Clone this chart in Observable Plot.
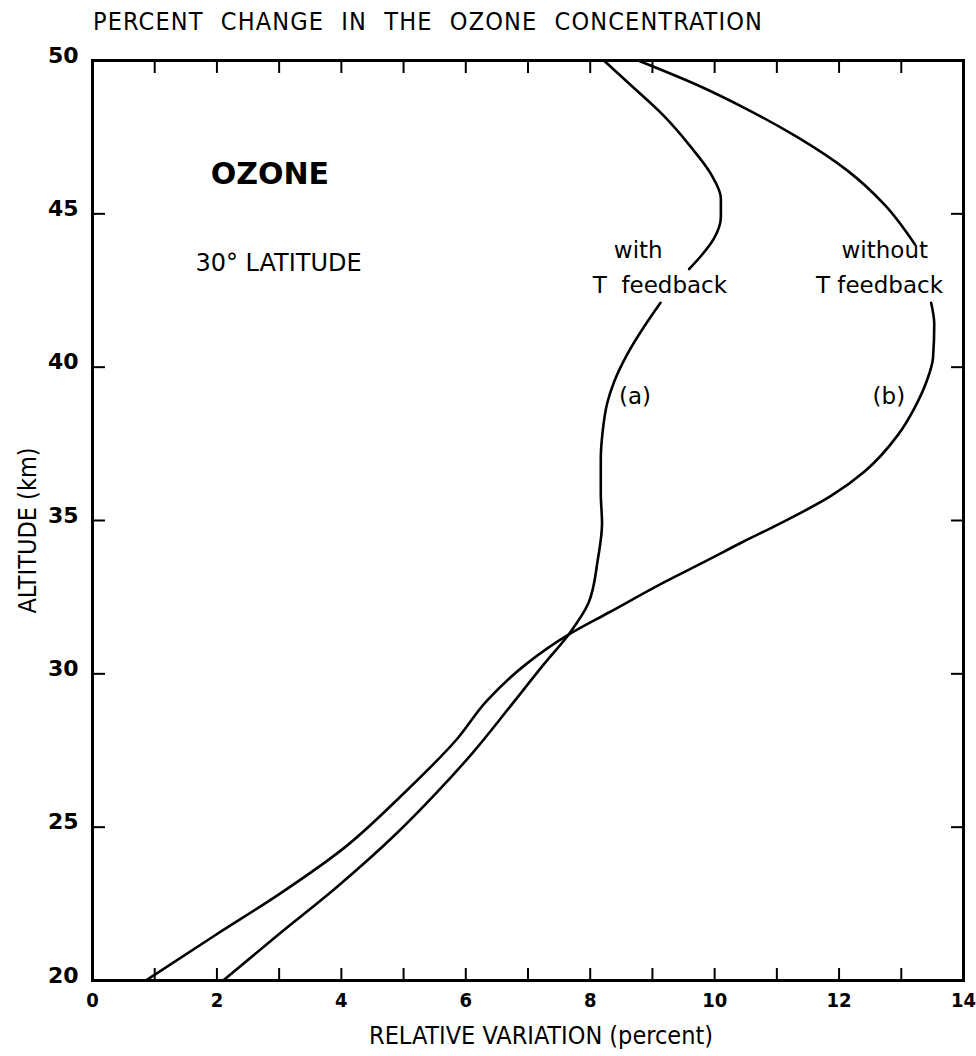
<!DOCTYPE html>
<html>
<head>
<meta charset="utf-8">
<script src="https://cdn.jsdelivr.net/npm/d3@7"></script>
<script src="https://cdn.jsdelivr.net/npm/@observablehq/plot@0.6"></script>
<style>
  html, body { margin: 0; padding: 0; background: #fff; }
  #wrap { position: relative; width: 976px; height: 1056px; overflow: hidden; }
  #title {
    position: absolute; left: 93px; top: 9px; z-index: 2;
    font-family: "DejaVu Sans Condensed", "DejaVu Sans", sans-serif;
    font-size: 25px; line-height: 25px; word-spacing: 9px;
    color: #000; white-space: nowrap;
  }
  #chart { position: absolute; left: 0; top: 0; }
</style>
</head>
<body>
<div id="wrap">
  <div id="title">PERCENT CHANGE IN THE OZONE CONCENTRATION</div>
  <div id="chart"></div>
</div>
<script>
// ---- data ----
// (a) with T feedback: altitude (km) and relative variation (percent); null = gap where the label sits
const withAlt = [20.0, 21.5, 23.0, 24.8, 26.1, 27.4, 28.9, 30.3, 31.3, 32.3, 33.7, 34.9, 35.9, 37.0, 37.9, 38.8, 39.5, 40.4, 41.3, 42.1, null, 43.2, 43.6, 44.2, 44.9, 45.5, 46.3, 47.2, 48.2, 49.2, 50.0];
const withVal = [2.10, 2.99, 3.90, 4.89, 5.52, 6.10, 6.70, 7.25, 7.66, 7.97, 8.12, 8.19, 8.17, 8.17, 8.20, 8.27, 8.38, 8.59, 8.86, 9.13, null, 9.59, 9.77, 9.99, 10.10, 10.10, 9.94, 9.61, 9.18, 8.65, 8.22];
// (b) without T feedback
const withoutAlt = [20.0, 21.5, 22.8, 24.3, 26.0, 27.9, 29.1, 30.3, 31.3, 32.0, 33.0, 33.7, 34.3, 34.85, 35.8, 36.6, 37.8, 38.7, 39.5, 40.3, 41.4, 42.1, null, 44.0, 45.3, 46.4, 47.5, 48.4, 49.2, 50.0];
const withoutVal = [0.86, 1.99, 2.99, 4.03, 4.95, 5.87, 6.33, 6.96, 7.67, 8.30, 9.20, 9.88, 10.45, 11.0, 11.87, 12.41, 12.95, 13.22, 13.40, 13.51, 13.53, 13.48, null, 13.22, 12.73, 12.14, 11.33, 10.53, 9.72, 8.77];

// axes
const xTickVals = [1, 2, 3, 4, 5, 6, 7, 8, 9, 10, 11, 12, 13];
const xLabelVals = [0, 2, 4, 6, 8, 10, 12, 14];
const yTickVals = [25, 30, 35, 40, 45];
const yLabelVals = [20, 25, 30, 35, 40, 45, 50];
const xAxisLabel = ["RELATIVE VARIATION (percent)"];
const yAxisLabel = ["ALTITUDE (km)"];

// annotations
const headText = ["OZONE"];
const headX = [2.85];
const headY = [46.3];
const subText = ["30° LATITUDE"];
const subX = [2.99];
const subY = [43.4];
const curveNoteText = ["with", "without"];
const curveNoteX = [8.38, 12.04];
const curveNoteY = [43.8, 43.8];
const feedbackText = ["T\u00a0\u00a0feedback", "T feedback"];
const feedbackX = [10.2, 13.67];
const feedbackY = [42.66, 42.66];
const tagText = ["(a)", "(b)"];
const tagX = [8.72, 12.8];
const tagY = [39.05, 39.05];

const toRows = (alt, val) => alt.map((a, i) => ({alt: a, val: val[i]}));
const withRows = toRows(withAlt, withVal);
const withoutRows = toRows(withoutAlt, withoutVal);
const rows = (t, x, y) => t.map((s, i) => ({t: s, x: x[i], y: y[i]}));

const sans = "DejaVu Sans, sans-serif";
const cond = "DejaVu Sans Condensed, DejaVu Sans, sans-serif";

const chart = Plot.plot({
  width: 976,
  height: 1056,
  marginLeft: 92,
  marginRight: 13,
  marginTop: 60,
  marginBottom: 76,
  x: {domain: [0, 14]},
  y: {domain: [20, 50]},
  style: {background: "#fff", color: "#000", fontFamily: sans},
  marks: [
    // inward ticks
    Plot.axisX(xTickVals, {anchor: "bottom", tickSize: -12, strokeWidth: 2, fill: "none", label: null}),
    Plot.axisX(xTickVals, {anchor: "top", tickSize: -12, strokeWidth: 2, fill: "none", label: null}),
    Plot.axisY(yTickVals, {anchor: "left", tickSize: -13, strokeWidth: 2, fill: "none", label: null}),
    Plot.axisY(yTickVals, {anchor: "right", tickSize: -13, strokeWidth: 2, fill: "none", label: null}),
    // tick labels
    Plot.axisX(xLabelVals, {anchor: "bottom", tickSize: 0, tickPadding: 12, label: null,
      fontFamily: cond, fontWeight: "bold", fontSize: 20}),
    Plot.axisY(yLabelVals, {anchor: "left", tickSize: 0, tickPadding: 14, label: null, dy: -5,
      fontFamily: sans, fontWeight: "bold", fontSize: 22}),
    Plot.frame({strokeWidth: 3}),
    // curves
    Plot.line(withRows, {x: "val", y: "alt", curve: "monotone-y", stroke: "#000", strokeWidth: 2.6}),
    Plot.line(withoutRows, {x: "val", y: "alt", curve: "monotone-y", stroke: "#000", strokeWidth: 2.6}),
    // axis titles
    Plot.text(xAxisLabel, {text: d => d, frameAnchor: "bottom", dy: 55, dx: 13, textAnchor: "middle", lineAnchor: "middle",
      fontFamily: cond, fontSize: 25, ariaLabel: "xlabel"}),
    Plot.text(yAxisLabel, {text: d => d, frameAnchor: "left", dx: -65, dy: 10, rotate: -90, textAnchor: "middle", lineAnchor: "middle",
      fontFamily: cond, fontSize: 25, ariaLabel: "ylabel"}),
    // annotations
    Plot.text(rows(headText, headX, headY), {x: "x", y: "y", text: "t", textAnchor: "middle",
      fontFamily: sans, fontWeight: "bold", fontSize: 30}),
    Plot.text(rows(subText, subX, subY), {x: "x", y: "y", text: "t", textAnchor: "middle",
      fontFamily: sans, fontSize: 24}),
    Plot.text(rows(curveNoteText, curveNoteX, curveNoteY), {x: "x", y: "y", text: "t", textAnchor: "start",
      fontFamily: sans, fontSize: 23}),
    Plot.text(rows(feedbackText, feedbackX, feedbackY), {x: "x", y: "y", text: "t", textAnchor: "end",
      fontFamily: sans, fontSize: 23}),
    Plot.text(rows(tagText, tagX, tagY), {x: "x", y: "y", text: "t", textAnchor: "middle",
      fontFamily: sans, fontSize: 23})
  ]
});

d3.select(chart).selectAll('g[aria-label="xlabel"] text')
  .attr("textLength", 400).attr("lengthAdjust", "spacing");
d3.select(chart).selectAll('g[aria-label="ylabel"] text')
  .attr("textLength", 196).attr("lengthAdjust", "spacing");
document.getElementById("chart").appendChild(chart);

// stretch the title to its width in the figure
const title = document.getElementById("title");
const natural = title.getBoundingClientRect().width;
const chars = title.textContent.length;
title.style.letterSpacing = ((670 - natural) / chars).toFixed(2) + "px";
</script>
</body>
</html>
